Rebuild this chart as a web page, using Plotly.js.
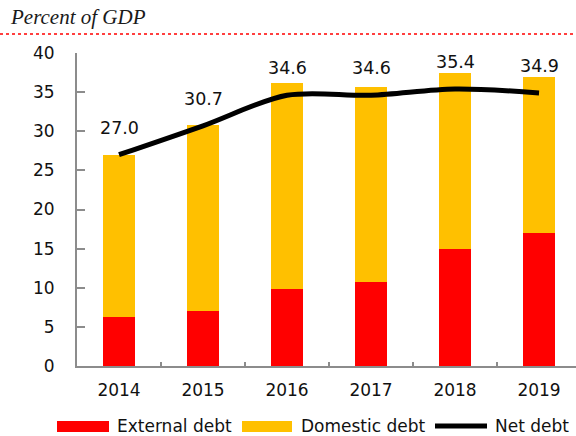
<!DOCTYPE html>
<html>
<head>
<meta charset="utf-8">
<script src="https://cdn.plot.ly/plotly-3.0.1.min.js"></script>
<style>
  html, body { margin: 0; padding: 0; background: #fff; }
  #chart { width: 576px; height: 436px; }
</style>
</head>
<body>
<div id="chart"></div>
<script>
// ---- data ----
const years = ["2014", "2015", "2016", "2017", "2018", "2019"];
const externalDebt = [6.2, 7.0, 9.8, 10.7, 14.9, 17.0];
const domesticDebt = [20.8, 23.8, 26.4, 25.0, 22.6, 19.9];
const netDebt = [27.0, 30.7, 34.6, 34.6, 35.4, 34.9];
const seriesNames = ["External debt", "Domestic debt", "Net debt"];
const subtitle = "Percent of GDP";

// ---- layout helpers (pixel -> paper) ----
const W = 576, H = 436;
const mL = 77, mR = 0, mT = 53, mB = 70;
const pw = W - mL - mR, ph = H - mT - mB;
const px = x => (x - mL) / pw;
const py = y => (H - mB - y) / ph;

const RED = "#FF0000", YEL = "#FFC000", BLK = "#000000";
const FONT = "DejaVu Sans, Verdana, sans-serif";

const traces = [
  {
    type: "bar", name: seriesNames[0], x: years, y: externalDebt,
    marker: { color: RED, line: { width: 0 } }, width: 0.38, hoverinfo: "x+y"
  },
  {
    type: "bar", name: seriesNames[1], x: years, y: domesticDebt,
    marker: { color: YEL, line: { width: 0 } }, width: 0.38, hoverinfo: "x+y"
  },
  {
    type: "scatter", mode: "lines", name: seriesNames[2], x: years, y: netDebt,
    line: { color: BLK, width: 5, shape: "spline", smoothing: 0.9 }
  }
];

const annotations = netDebt.map((v, i) => ({
  x: i, y: v, xref: "x", yref: "y", text: v.toFixed(1),
  showarrow: false, yshift: 27, yanchor: "middle", xanchor: "center",
  font: { family: FONT, size: 17.5, color: "#111" }
}));

annotations.push({
  xref: "paper", yref: "paper", x: px(8), y: py(17), xanchor: "left", yanchor: "middle",
  text: subtitle, showarrow: false,
  font: { family: "Liberation Serif, Times New Roman, serif", size: 21, color: "#1a1a1a", style: "italic" }
});

// custom legend
const legY = 426;
const shapes = [
  { type: "line", xref: "paper", yref: "paper", x0: px(0), x1: px(576), y0: py(34), y1: py(34),
    line: { color: RED, width: 1.5, dash: "dot" } },
  { type: "rect", xref: "paper", yref: "paper", x0: px(57), x1: px(109), y0: py(421), y1: py(432),
    fillcolor: RED, line: { width: 0 } },
  { type: "rect", xref: "paper", yref: "paper", x0: px(242), x1: px(292), y0: py(421), y1: py(432),
    fillcolor: YEL, line: { width: 0 } },
  { type: "line", xref: "paper", yref: "paper", x0: px(435), x1: px(487), y0: py(legY), y1: py(legY),
    line: { color: BLK, width: 5 } }
];
const legTextX = [115, 299, 493];
seriesNames.forEach((n, i) => {
  annotations.push({
    xref: "paper", yref: "paper", x: px(legTextX[i]), y: py(legY), xanchor: "left", yanchor: "middle",
    text: n, showarrow: false, font: { family: FONT, size: 17, color: "#111" }
  });
});

const layout = {
  width: W, height: H,
  margin: { l: mL, r: mR, t: mT, b: mB, pad: 0 },
  paper_bgcolor: "#fff", plot_bgcolor: "#fff",
  barmode: "stack",
  showlegend: false,
  xaxis: {
    type: "category", range: [-0.5, 5.44],
    showline: true, linecolor: "#8c8c8c", linewidth: 2,
    ticks: "inside", ticklen: 4, tickcolor: "#8c8c8c", tickwidth: 1.5,
    tickson: "boundaries", showgrid: false, zeroline: false,
    ticklabelstandoff: 8,
    tickfont: { family: FONT, size: 17, color: "#111" }
  },
  yaxis: {
    range: [0, 40], dtick: 5, tick0: 0,
    showline: true, linecolor: "#8c8c8c", linewidth: 2,
    ticks: "inside", ticklen: 8, tickcolor: "#8c8c8c", tickwidth: 2,
    showgrid: false, zeroline: false,
    ticklabelstandoff: 17,
    tickfont: { family: FONT, size: 17, color: "#111" }
  },
  annotations: annotations,
  shapes: shapes
};

Plotly.newPlot("chart", traces, layout, { displayModeBar: false, staticPlot: true });
</script>
</body>
</html>
